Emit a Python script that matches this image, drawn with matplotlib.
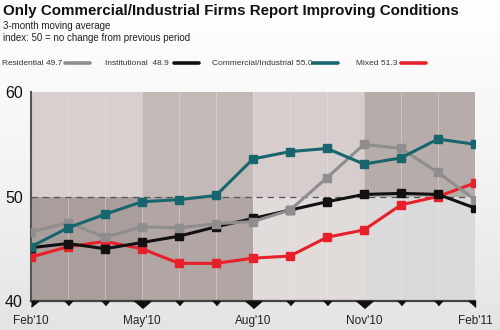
import numpy as np
import matplotlib as mpl
mpl.use('Agg')
import matplotlib.pyplot as plt
from matplotlib.lines import Line2D
from matplotlib.patches import Rectangle

plt.rcParams['font.family'] = ['Liberation Sans', 'DejaVu Sans']

months = ["Feb'10", "Mar'10", "Apr'10", "May'10", "Jun'10", "Jul'10", "Aug'10",
          "Sep'10", "Oct'10", "Nov'10", "Dec'10", "Jan'11", "Feb'11"]
tick_labels = ["Feb'10", "May'10", "Aug'10", "Nov'10", "Feb'11"]

residential = [46.6, 47.5, 46.1, 47.1, 47.0, 47.4, 47.6, 48.7, 51.8, 55.0, 54.6, 52.3, 49.7]
institutional = [45.1, 45.5, 45.0, 45.6, 46.2, 47.1, 47.9, 48.7, 49.5, 50.2, 50.3, 50.2, 48.9]
commercial = [45.2, 47.0, 48.3, 49.5, 49.7, 50.1, 53.6, 54.3, 54.6, 53.1, 53.7, 55.5, 55.0]
mixed = [44.2, 45.2, 45.7, 45.0, 43.6, 43.6, 44.1, 44.3, 46.1, 46.8, 49.2, 50.0, 51.3]

series = [
    ('Residential', residential, '#8e8e8e', 3),
    ('Institutional', institutional, '#111111', 2),
    ('Commercial/Industrial', commercial, '#17666e', 4),
    ('Mixed', mixed, '#e8202a', 1),
]

# shading per quarter: (above 50, below 50)
band_colors = [('#d8d0cf', '#aa9e9d'), ('#c3bab8', '#b1a6a4'),
               ('#d6cdcc', '#e1dbda'), ('#b6aca9', '#dbdada')]

fig = plt.figure(figsize=(5, 3.3), dpi=100)

# soft white-to-grey page background
bg = fig.add_axes([0, 0, 1, 1], zorder=-10)
grad = np.linspace(0, 1, 256)[:, None]
bg.imshow(grad, aspect='auto', cmap=mpl.colors.LinearSegmentedColormap.from_list(
    'page', ['#ffffff', '#f4f4f4', '#e4e4e4']), extent=[0, 1, 0, 1], origin='upper')
bg.axis('off')

ax = fig.add_axes([0.062, 0.088, 0.888, 0.633])
ax.set_facecolor('none')
x = np.arange(len(months))

for q, (top_c, bot_c) in enumerate(band_colors):
    ax.add_patch(Rectangle((q * 3, 50), 3, 10, color=top_c, zorder=0, lw=0))
    ax.add_patch(Rectangle((q * 3, 40), 3, 10, color=bot_c, zorder=0, lw=0))

for xi in x[1:-1]:
    ax.axvline(xi, color='#efeaea', lw=0.6, alpha=0.45, zorder=1)
ax.axhline(50, color='#555555', lw=0.9, ls=(0, (5, 4)), zorder=2)

for name, vals, color, z in series:
    ax.plot(x, vals, color=color, lw=2.2, marker='s', ms=6, zorder=3 + z)

ax.set_xlim(0, len(months) - 1)
ax.set_ylim(40, 60)
ax.set_yticks([40, 50, 60])
ax.set_yticklabels(['40', '50', '60'], fontsize=11.5, color='#111111')
ax.tick_params(axis='y', length=0, pad=6)
ax.set_xticks([0, 3, 6, 9, 12])
ax.set_xticklabels(tick_labels, fontsize=8.5, color='#222222')
ax.tick_params(axis='x', length=0, pad=10)
for s in ['top', 'right']:
    ax.spines[s].set_visible(False)
ax.spines['left'].set_color('#555555')
ax.spines['left'].set_linewidth(1.5)
ax.spines['bottom'].set_color('#444444')
ax.spines['bottom'].set_linewidth(1.6)

# month pointers hanging under the axis
small_tri = [(-1, 0), (1, 0), (0, -1.1)]
big_tri = [(-1, 0), (1, 0), (0, -0.85)]
for xi in x:
    if xi == 0:
        mk, ms = [(0, 0), (1, 0), (0, -0.8)], 10
    elif xi == len(months) - 1:
        mk, ms = [(-1, 0), (0, 0), (0, -0.8)], 10
    elif xi % 3 == 0:
        mk, ms = big_tri, 12
    else:
        mk, ms = small_tri, 6
    ax.plot([xi], [40], marker=mk, ms=ms, color='#111111', lw=0,
            clip_on=False, zorder=10)

fig.text(0.006, 0.968, 'Only Commercial/Industrial Firms Report Improving Conditions',
         fontsize=10.9, fontweight='bold', va='center', color='#111111')
fig.text(0.006, 0.922, '3-month moving average', fontsize=7, va='center', color='#222222')
fig.text(0.006, 0.886, 'index: 50 = no change from previous period', fontsize=7,
         va='center', color='#222222')

legend_items = [
    ('Residential 49.7', 0.004, 0.130, '#8e8e8e'),
    ('Institutional  48.9', 0.210, 0.348, '#111111'),
    ('Commercial/Industrial 55.0', 0.424, 0.626, '#17666e'),
    ('Mixed 51.3', 0.712, 0.802, '#e8202a'),
]
ly = 0.809
for label, tx, lx, color in legend_items:
    fig.text(tx, ly, label, fontsize=6, va='center', color='#333333')
    fig.add_artist(Line2D([lx, lx + 0.05], [ly, ly], color=color, lw=2.6,
                          solid_capstyle='round', transform=fig.transFigure))

plt.savefig('out.png', dpi=100)
